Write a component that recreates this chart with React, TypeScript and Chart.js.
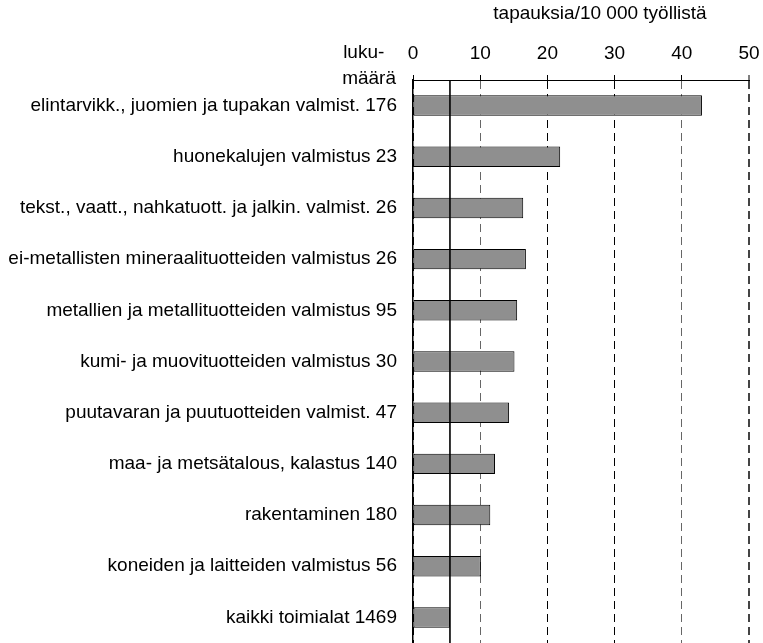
import React, { useEffect, useRef } from "react";
import { Chart, registerables } from "chart.js";

Chart.register(...registerables);

const industries = [
  "elintarvikk., juomien ja tupakan valmist.",
  "huonekalujen valmistus",
  "tekst., vaatt., nahkatuott. ja jalkin. valmist.",
  "ei-metallisten mineraalituotteiden valmistus",
  "metallien ja metallituotteiden valmistus",
  "kumi- ja muovituotteiden valmistus",
  "puutavaran ja puutuotteiden valmist.",
  "maa- ja metsätalous, kalastus",
  "rakentaminen",
  "koneiden ja laitteiden valmistus",
  "kaikki toimialat",
];
const counts = [176, 23, 26, 26, 95, 30, 47, 140, 180, 56, 1469];
const ratePer10000 = [43.0, 21.9, 16.4, 16.8, 15.5, 15.1, 14.3, 12.2, 11.5, 10.1, 5.5];
const allIndustriesRate = 5.5;
const xMin = 0;
const xMax = 50;
const xStep = 10;
const axisTitle = "tapauksia/10 000 työllistä";
const countHeader = ["luku-", "määrä"];

const FONT = 'Arial, "Liberation Sans", sans-serif';
const FONT_SIZE = 19;

export default function App() {
  const ref = useRef<HTMLCanvasElement | null>(null);

  useEffect(() => {
    if (!ref.current) return;
    const labels = industries.map((n, i) => `${n} ${counts[i]}`);

    const overlay = {
      id: "overlay",
      afterDatasetsDraw(chart: any) {
        const { ctx, chartArea, scales } = chart;
        const x = scales.x.getPixelForValue(allIndustriesRate);
        ctx.save();
        ctx.strokeStyle = "#000";
        ctx.lineWidth = 1.6;
        ctx.beginPath();
        ctx.moveTo(x, chartArea.top);
        ctx.lineTo(x, chartArea.bottom);
        ctx.stroke();
        ctx.restore();
      },
      afterDraw(chart: any) {
        const { ctx, chartArea } = chart;
        ctx.save();
        ctx.fillStyle = "#000";
        ctx.font = `${FONT_SIZE}px ${FONT}`;
        ctx.textBaseline = "alphabetic";
        ctx.textAlign = "center";
        ctx.fillText(axisTitle, 600, 19);
        const right = chartArea.left - 17;
        const w = ctx.measureText(countHeader[1]).width;
        ctx.textAlign = "left";
        ctx.fillText(countHeader[0], right - w + 1, 58);
        ctx.fillText(countHeader[1], right - w, 84);
        ctx.restore();
      },
    };

    const gridColor = (ctx: any) => {
      const v = ctx.tick ? ctx.tick.value : 0;
      if (v === 10 || v === 40) return "#666";
      if (v === 50) return "#444";
      return "#000";
    };

    const chart = new Chart(ref.current, {
      type: "bar",
      data: {
        labels,
        datasets: [
          {
            data: ratePer10000,
            backgroundColor: "#8f8f8f",
            borderColor: "#000",
            borderWidth: 1,
            borderSkipped: false,
            categoryPercentage: 1,
            barPercentage: 0.4,
          },
        ],
      },
      options: {
        indexAxis: "y",
        responsive: false,
        animation: false,
        layout: { padding: { left: 0, right: 14, top: 0, bottom: 0 } },
        plugins: {
          legend: { display: false },
          tooltip: { enabled: false },
          title: { display: false },
        },
        scales: {
          x: {
            type: "linear",
            position: "top",
            min: xMin,
            max: xMax,
            ticks: {
              stepSize: xStep,
              color: "#000",
              font: { family: FONT, size: FONT_SIZE },
              padding: 10,
            },
            grid: {
              color: gridColor,
              lineWidth: (ctx: any) => (ctx.tick && ctx.tick.value === 50 ? 2 : 1),
              drawTicks: true,
              tickLength: 5,
              tickColor: "#000",
              tickWidth: 1,
              tickBorderDash: [],
              borderDash: [8, 5],
            } as any,
            border: { display: true, color: "#000", width: 1, dash: [8, 5] },
            afterFit(scale: any) {
              scale.height = 80;
              scale.paddingLeft = 0;
              scale.paddingRight = 0;
            },
          },
          y: {
            type: "category",
            position: "left",
            ticks: {
              color: "#000",
              font: { family: FONT, size: FONT_SIZE },
              padding: 16,
              autoSkip: false,
            },
            grid: { display: false, drawTicks: false },
            border: { display: true, color: "#000", width: 1.5 },
            afterFit(scale: any) {
              scale.width = 413;
              scale.paddingTop = 0;
              scale.paddingBottom = 0;
            },
          },
        },
      } as any,
      plugins: [overlay],
    });
    return () => chart.destroy();
  }, []);

  return (
    <div style={{ position: "absolute", left: 0, top: 0, width: 763, height: 643, background: "#fff" }}>
      <canvas ref={ref} width={763} height={643} />
    </div>
  );
}
